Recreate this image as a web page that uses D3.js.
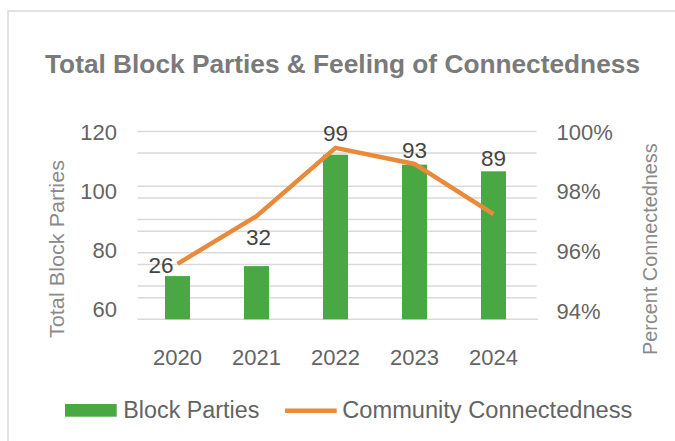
<!DOCTYPE html>
<html>
<head>
<meta charset="utf-8">
<script src="https://cdn.jsdelivr.net/npm/d3@7/dist/d3.min.js"></script>
<style>
  html, body { margin: 0; padding: 0; background: #ffffff; }
  svg { display: block; font-family: "Liberation Sans", Arial, sans-serif; }
</style>
</head>
<body>
<svg id="chart" width="675" height="441"></svg>
<script>
// ---- data ----
const years = ["2020", "2021", "2022", "2023", "2024"];
const blockParties = [26, 32, 99, 93, 89];
const connectedness = [0.9558, 0.9718, 0.9947, 0.9893, 0.9725];
const leftTickLabels = [60, 80, 100, 120];
const rightTickLabels = [0.94, 0.96, 0.98, 1.00];
const majorGrid = [0, 20, 40, 60, 80, 100];
const minorGrid = [13, 33, 53, 73, 113];

// ---- layout ----
const plot = { left: 138, right: 533, top: 131.4, bottom: 319.3 };
const gridX = [137.5, 536.5];
const green = "#4aa844", orange = "#e98a3a";
const tickColor = "#646464", gridColor = "#d9d9d9";
// label placement relative to bar centre / bar top
const labelShift = [[-16.5, 3.4], [2, 21], [0, 14], [0, 6.3], [0, 5.6]];

const svg = d3.select("#chart");

// outer chart border (runs off the right and bottom edges)
svg.append("rect")
  .attr("x", 8).attr("y", 11).attr("width", 700).attr("height", 460)
  .attr("fill", "#ffffff").attr("stroke", gridColor).attr("stroke-width", 1.5);

// scales
const x = d3.scaleBand().domain(years).range([plot.left, plot.right]).padding(0);
const yBars = d3.scaleLinear().domain([0, 113]).range([plot.bottom, plot.top]);
const yLeftLabels = d3.scaleLinear().domain([60, 120]).range([309.5, 132]);
const yPct = d3.scaleLinear().domain([0.94, 1.00]).range([311, 132]);

// gridlines
const grid = svg.append("g");
grid.selectAll("line.minor").data(minorGrid).join("line")
  .attr("class", "minor")
  .attr("x1", gridX[0]).attr("x2", gridX[1])
  .attr("y1", d => yBars(d)).attr("y2", d => yBars(d))
  .attr("stroke", gridColor).attr("stroke-width", 1.5);
grid.selectAll("line.major").data(majorGrid).join("line")
  .attr("class", "major")
  .attr("x1", gridX[0]).attr("x2", d => d === 0 ? gridX[1] + 1.5 : gridX[1])
  .attr("y1", d => yBars(d)).attr("y2", d => yBars(d))
  .attr("stroke", gridColor).attr("stroke-width", 1.5);

// bars
const barW = 25;
svg.append("g").selectAll("rect").data(blockParties).join("rect")
  .attr("x", (d, i) => x(years[i]) + x.bandwidth() / 2 - barW / 2)
  .attr("width", barW)
  .attr("y", d => yBars(d))
  .attr("height", d => yBars(0) - yBars(d))
  .attr("fill", green);

// connectedness line
const line = d3.line()
  .x((d, i) => x(years[i]) + x.bandwidth() / 2)
  .y(d => yPct(d));
svg.append("path")
  .datum(connectedness)
  .attr("d", line)
  .attr("fill", "none")
  .attr("stroke", orange)
  .attr("stroke-width", 4.5)
  .attr("stroke-linejoin", "miter");

// bar value labels
svg.append("g").selectAll("text").data(blockParties).join("text")
  .attr("x", (d, i) => x(years[i]) + x.bandwidth() / 2 + labelShift[i][0])
  .attr("y", (d, i) => yBars(d) - labelShift[i][1])
  .attr("text-anchor", "middle")
  .attr("font-size", 22.5)
  .attr("fill", "#454545")
  .text(d => d);

// left axis labels
const leftAxis = d3.axisLeft(yLeftLabels).tickValues(leftTickLabels).tickSize(0).tickPadding(0);
const gl = svg.append("g").attr("transform", "translate(117,0)").call(leftAxis);
gl.select(".domain").remove();
gl.selectAll("text").attr("font-size", 22).attr("fill", tickColor)
  .attr("font-family", "'Liberation Sans', Arial, sans-serif");

// right axis labels
const rightAxis = d3.axisRight(yPct).tickValues(rightTickLabels)
  .tickFormat(d3.format(".0%")).tickSize(0).tickPadding(0);
const gr = svg.append("g").attr("transform", "translate(556.5,0)").call(rightAxis);
gr.select(".domain").remove();
gr.selectAll("text").attr("font-size", 22).attr("fill", tickColor)
  .attr("font-family", "'Liberation Sans', Arial, sans-serif");

// category axis
const bottomAxis = d3.axisBottom(x).tickSize(0).tickPadding(0);
const gb = svg.append("g").attr("transform", "translate(0,349)").call(bottomAxis);
gb.select(".domain").remove();
gb.selectAll("text").attr("font-size", 22).attr("fill", tickColor)
  .attr("font-family", "'Liberation Sans', Arial, sans-serif");

// title
svg.append("text")
  .attr("x", 45).attr("y", 72.5)
  .attr("font-size", 26).attr("font-weight", "bold").attr("fill", "#7a7a7a")
  .attr("textLength", 595).attr("lengthAdjust", "spacingAndGlyphs")
  .text("Total Block Parties & Feeling of Connectedness");

// axis titles
svg.append("text")
  .attr("transform", "translate(63.5,249) rotate(-90)")
  .attr("text-anchor", "middle")
  .attr("font-size", 21).attr("fill", "#8a8a8a")
  .attr("textLength", 178).attr("lengthAdjust", "spacingAndGlyphs")
  .text("Total Block Parties");
svg.append("text")
  .attr("transform", "translate(656.5,249.2) rotate(-90)")
  .attr("text-anchor", "middle")
  .attr("font-size", 20).attr("fill", "#8a8a8a")
  .attr("textLength", 211.5).attr("lengthAdjust", "spacingAndGlyphs")
  .text("Percent Connectedness");

// legend
const legend = svg.append("g");
legend.append("rect").attr("x", 65).attr("y", 404).attr("width", 51.7).attr("height", 12.7).attr("fill", green);
legend.append("text").attr("x", 123.3).attr("y", 418.3).attr("font-size", 23.3).attr("fill", tickColor)
  .attr("textLength", 136).attr("lengthAdjust", "spacingAndGlyphs")
  .text("Block Parties");
legend.append("line").attr("x1", 285).attr("x2", 336.7).attr("y1", 410.8).attr("y2", 410.8)
  .attr("stroke", orange).attr("stroke-width", 4.5);
legend.append("text").attr("x", 342.3).attr("y", 418.3).attr("font-size", 23.5).attr("fill", tickColor)
  .attr("textLength", 290).attr("lengthAdjust", "spacingAndGlyphs")
  .text("Community Connectedness");
</script>
</body>
</html>
